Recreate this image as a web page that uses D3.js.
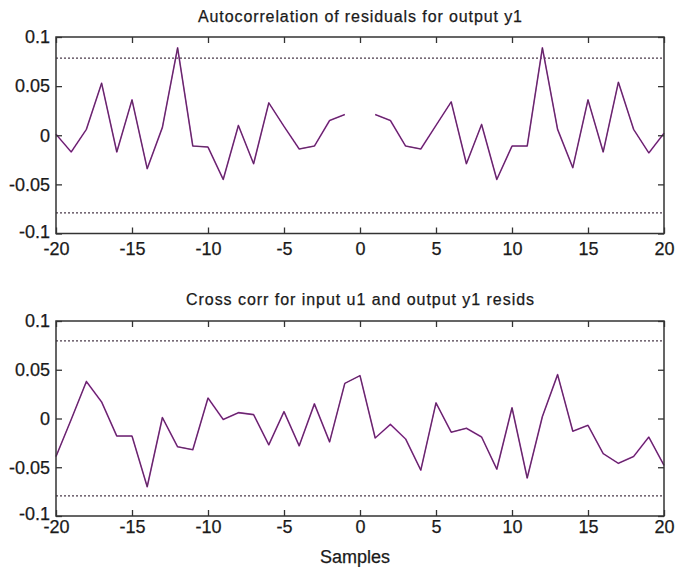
<!DOCTYPE html>
<html>
<head>
<meta charset="utf-8">
<script src="https://cdn.jsdelivr.net/npm/d3@7"></script>
<style>
  html, body { margin: 0; padding: 0; background: #fff; }
  svg { display: block; }
  text { font-family: "Liberation Sans", Arial, Helvetica, sans-serif; fill: #1a1a1a; }
</style>
</head>
<body>
<svg id="chart" width="675" height="567"></svg>
<script>
// ---- data ----
const lags = d3.range(-20, 21);
// autocorrelation of residuals, lags -20..20 (lag 0 not drawn)
const acfValues = [
  0.001, -0.017, 0.006, 0.053, -0.017, 0.036, -0.034, 0.008, 0.089, -0.011,
  -0.012, -0.045, 0.010, -0.029, 0.033, 0.009, -0.014, -0.011, 0.015, 0.021,
  null,
  0.021, 0.015, -0.011, -0.014, 0.010, 0.034, -0.029, 0.011, -0.045, -0.011,
  -0.011, 0.089, 0.006, -0.033, 0.036, -0.017, 0.054, 0.006, -0.018, 0.002
];
// cross correlation u1 -> y1 residuals, lags -20..20
const ccfValues = [
  -0.039, -0.001, 0.038, 0.017, -0.018, -0.018, -0.070, 0.001, -0.029, -0.032,
  0.021, -0.001, 0.006, 0.004, -0.027, 0.007, -0.028, 0.015, -0.024, 0.036,
  0.044,
  -0.020, -0.006, -0.021, -0.053, 0.016, -0.014, -0.010, -0.019, -0.052, 0.011,
  -0.061, 0.002, 0.045, -0.013, -0.007, -0.036, -0.046, -0.039, -0.019, -0.048
];
const acfConf = [0.0785, -0.0790];
const ccfConf = [0.0796, -0.0793];
const xTicks = [-20, -15, -10, -5, 0, 5, 10, 15, 20];
const xTickLabels = ["-20", "-15", "-10", "-5", "0", "5", "10", "15", "20"];
const yTicks = [-0.1, -0.05, 0, 0.05, 0.1];
const yTickLabels = ["-0.1", "-0.05", "0", "0.05", "0.1"];
const titles = ["Autocorrelation of residuals for output y1", "Cross corr for input u1 and output y1 resids"];
const xLabel = "Samples";

// ---- drawing ----
const svg = d3.select("#chart");
const left = 56, right = 664;

const panels = [
  { top: 37, bottom: 233.5, values: acfValues, conf: acfConf, title: titles[0], titleY: 21.5, titleW: 324, xLabDy: 22.5 },
  { top: 321, bottom: 516, values: ccfValues, conf: ccfConf, title: titles[1], titleY: 305, titleW: 348, xLabDy: 18 }
];

const x = d3.scaleLinear().domain([-20, 20]).range([left, right]);

panels.forEach((p, idx) => {
  const y = d3.scaleLinear().domain([-0.1, 0.1]).range([p.bottom, p.top]);
  const g = svg.append("g");

  const fmtX = d => xTickLabels[xTicks.indexOf(d)];
  const fmtY = d => yTickLabels[yTicks.findIndex(v => Math.abs(v - d) < 1e-9)];

  // confidence lines
  p.conf.forEach(c => {
    g.append("line")
      .attr("x1", left).attr("x2", right)
      .attr("y1", y(c)).attr("y2", y(c))
      .attr("stroke", "#4a3a4a").attr("stroke-width", 1.2)
      .attr("stroke-dasharray", "2,2");
  });

  // data line
  const data = lags.map((l, i) => ({ l, v: p.values[i] }));
  const line = d3.line()
    .defined(d => d.v !== null)
    .x(d => x(d.l)).y(d => y(d.v));
  g.append("path").datum(data)
    .attr("d", line).attr("fill", "none")
    .attr("stroke", "#a830b0").attr("stroke-width", 1.6)
    .attr("stroke-linejoin", "round");
  g.append("path").datum(data)
    .attr("d", line).attr("fill", "none")
    .attr("stroke", "#333").attr("stroke-width", 1).attr("stroke-opacity", 0.7)
    .attr("stroke-linejoin", "round");

  // frame
  g.append("rect")
    .attr("x", left).attr("y", p.top)
    .attr("width", right - left).attr("height", p.bottom - p.top)
    .attr("fill", "none").attr("stroke", "#333").attr("stroke-width", 1.5);

  // bottom axis
  const ax = g.append("g").attr("transform", `translate(0,${p.bottom})`)
    .call(d3.axisBottom(x).tickValues(xTicks).tickFormat(fmtX).tickSizeInner(-6).tickSizeOuter(0).tickPadding(p.xLabDy - 14));
  // top axis (ticks only)
  const axT = g.append("g").attr("transform", `translate(0,${p.top})`)
    .call(d3.axisTop(x).tickValues(xTicks).tickFormat("").tickSizeInner(-6).tickSizeOuter(0));
  // left axis
  const ay = g.append("g").attr("transform", `translate(${left},0)`)
    .call(d3.axisLeft(y).tickValues(yTicks).tickFormat(fmtY).tickSizeInner(-6).tickSizeOuter(0).tickPadding(6));
  // right axis (ticks only)
  const ayR = g.append("g").attr("transform", `translate(${right},0)`)
    .call(d3.axisRight(y).tickValues(yTicks).tickFormat("").tickSizeInner(-6).tickSizeOuter(0));

  [ax, axT, ay, ayR].forEach(a => {
    a.select(".domain").remove();
    a.selectAll(".tick line").attr("stroke", "#333").attr("stroke-width", 1.3);
    a.selectAll("text").attr("font-size", 18).attr("fill", "#1a1a1a")
      .attr("stroke", "#1a1a1a").attr("stroke-width", 0.25)
      .attr("font-family", "'Liberation Sans', Arial, sans-serif");
  });
  // nudge lowest y label up slightly, as in the reference stacking
  ay.selectAll(".tick text").filter(d => d === -0.1).attr("dy", "0.22em");

  // title
  svg.append("text")
    .attr("x", (left + right) / 2).attr("y", p.titleY)
    .attr("text-anchor", "middle").attr("font-size", 16)
    .attr("textLength", p.titleW).attr("lengthAdjust", "spacing")
    .attr("stroke", "#1a1a1a").attr("stroke-width", 0.25)
    .text(p.title);
});

svg.append("text")
  .attr("x", 355).attr("y", 562.5)
  .attr("text-anchor", "middle").attr("font-size", 18)
  .attr("stroke", "#1a1a1a").attr("stroke-width", 0.25)
  .text(xLabel);
</script>
</body>
</html>
